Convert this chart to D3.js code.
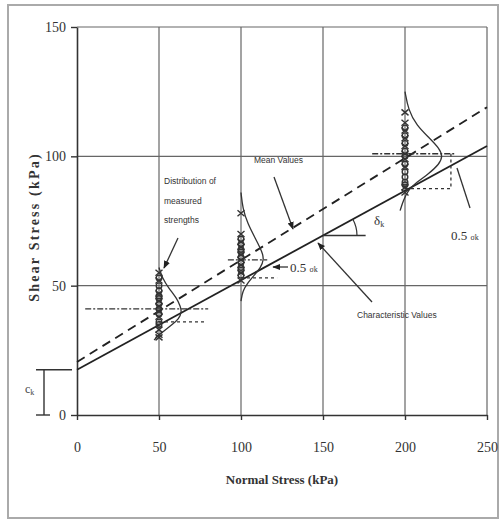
<!DOCTYPE html>
<html><head><meta charset="utf-8">
<script src="https://cdn.jsdelivr.net/npm/d3@7"></script>
<style>html,body{margin:0;padding:0;background:#fff;}svg{display:block;}</style>
</head><body>
<script>
// ---- data ----
const xTicks = [0, 50, 100, 150, 200, 250];
const yTicks = [0, 50, 100, 150];
const meanLine = [[0, 20.5], [250, 119]];
const charLine = [[0, 17.5], [250, 104]];
const groupX = [50, 100, 200];
const crosses50 = [55, 52, 47, 44, 42, 40, 38, 33, 31, 30];
const circles50 = [53, 50, 48, 46, 45, 43, 41, 39, 36, 35];
const crosses100 = [78, 70, 67, 65, 62, 60, 58, 55, 52];
const circles100 = [68, 66, 64, 63, 61, 59, 57, 56, 54];
const crosses200 = [117, 113, 110, 107, 104, 101, 99, 96, 88, 86];
const circles200 = [111, 108, 105, 102, 100, 97, 94, 92, 90, 89];
// distribution curves: [normal stress, shear stress]
const curve50 = [[50,57],[52,53],[56,49],[61,45],[63,42],[64,40],[62,37],[58,35],[54,33],[50,31],[47,29]];
const curve100 = [[100,86],[101,80],[104,74],[109,68],[113,63],[114,60],[112,57],[108,54],[104,51],[101,48],[100,44]];
const curve200 = [[200,125],[202,118],[207,112],[215,107],[221,103],[223,100],[221,97],[214,93],[207,90],[202,87],[199,83],[197,79]];
const meanMarks = [[[5, 41], [80, 41]], [[92, 60], [116, 60]], [[180, 101], [230, 101]]];
const charMarks = [[[50, 36], [78, 36]], [[100, 53], [122, 53]], [[200, 87.5], [228, 87.5], [228, 101]]];

const W = 502, H = 525;
const svg = d3.select("body").append("svg").attr("width", W).attr("height", H);
const x = d3.scaleLinear().domain([0, 250]).range([77, 487]);
const y = d3.scaleLinear().domain([0, 150]).range([415, 27]);

svg.append("defs").append("marker").attr("id", "ah").attr("viewBox", "0 0 10 10")
  .attr("refX", 9).attr("refY", 5).attr("markerWidth", 6).attr("markerHeight", 6).attr("orient", "auto")
  .append("path").attr("d", "M0,1L10,5L0,9z").attr("fill", "#222");

// frame
svg.append("rect").attr("x", 8).attr("y", 5).attr("width", 490).attr("height", 513)
  .attr("fill", "none").attr("stroke", "#aaa").attr("stroke-width", 2);

// grid
const grid = svg.append("g").attr("stroke", "#666").attr("stroke-width", 1.2);
xTicks.filter(d => d > 0).forEach(d => grid.append("line").attr("x1", x(d)).attr("x2", x(d)).attr("y1", y(0)).attr("y2", y(150)));
yTicks.filter(d => d > 0).forEach(d => grid.append("line").attr("x1", x(0)).attr("x2", x(250)).attr("y1", y(d)).attr("y2", y(d)));

// axes
const ax = svg.append("g").attr("transform", `translate(0,${y(0)})`)
  .call(d3.axisBottom(x).tickValues(xTicks).tickSize(5).tickPadding(22).tickSizeOuter(0));
const ay = svg.append("g").attr("transform", `translate(${x(0)},0)`)
  .call(d3.axisLeft(y).tickValues(yTicks).tickSize(6).tickPadding(5).tickSizeOuter(0));
[ax, ay].forEach(a => {
  a.select(".domain").attr("stroke", "#333").attr("stroke-width", 1.6);
  a.selectAll(".tick line").attr("stroke", "#333").attr("stroke-width", 1.4);
  a.selectAll("text").attr("font-family", "Liberation Serif, serif").attr("font-size", 14).attr("fill", "#333");
});

// titles
svg.append("text").attr("x", 282).attr("y", 484).attr("text-anchor", "middle")
  .attr("font-family", "Liberation Serif, serif").attr("font-weight", "bold").attr("font-size", 13).attr("fill", "#333")
  .text("Normal Stress (kPa)");
svg.append("text").attr("transform", "translate(39,227) rotate(-90)").attr("text-anchor", "middle")
  .attr("font-family", "Liberation Serif, serif").attr("font-weight", "bold").attr("font-size", 14)
  .attr("letter-spacing", 2.2).attr("fill", "#333")
  .text("Shear Stress (kPa)");

const line = d3.line().x(d => x(d[0])).y(d => y(d[1]));
// main lines
svg.append("path").attr("d", line(meanLine)).attr("fill", "none").attr("stroke", "#222").attr("stroke-width", 1.8).attr("stroke-dasharray", "9,6");
svg.append("path").attr("d", line(charLine)).attr("fill", "none").attr("stroke", "#222").attr("stroke-width", 1.8);

// mean / characteristic marks
meanMarks.forEach(m => svg.append("path").attr("d", line(m)).attr("fill", "none").attr("stroke", "#333").attr("stroke-width", 1.3).attr("stroke-dasharray", "6,2,2,2"));
charMarks.forEach(m => svg.append("path").attr("d", line(m)).attr("fill", "none").attr("stroke", "#333").attr("stroke-width", 1.3).attr("stroke-dasharray", "3,3"));

// distribution curves
const curve = d3.line().x(d => x(d[0])).y(d => y(d[1])).curve(d3.curveBasis);
[curve50, curve100, curve200].forEach(c => svg.append("path").attr("d", curve(c)).attr("fill", "none").attr("stroke", "#333").attr("stroke-width", 1.3));

// markers
const groups = [[crosses50, circles50], [crosses100, circles100], [crosses200, circles200]];
groups.forEach((g, i) => {
  const gx = x(groupX[i]);
  g[0].forEach(v => svg.append("path").attr("d", `M${gx - 3.5},${y(v) - 3}L${gx + 3.5},${y(v) + 3}M${gx - 3.5},${y(v) + 3}L${gx + 3.5},${y(v) - 3}`)
    .attr("stroke", "#333").attr("stroke-width", 1.4));
  g[1].forEach(v => svg.append("circle").attr("cx", gx).attr("cy", y(v)).attr("r", 2.8)
    .attr("fill", "none").attr("stroke", "#333").attr("stroke-width", 1.4));
});

// c_k bracket
const br = svg.append("g").attr("stroke", "#333").attr("stroke-width", 1.4);
br.append("line").attr("x1", 36).attr("x2", x(0) - 5).attr("y1", y(17.5)).attr("y2", y(17.5));
br.append("line").attr("x1", 36).attr("x2", 50).attr("y1", y(0)).attr("y2", y(0));
br.append("line").attr("x1", 44).attr("x2", 44).attr("y1", y(17.5)).attr("y2", y(0));
const ck = svg.append("text").attr("x", 25).attr("y", 393)
  .attr("font-family", "Liberation Serif, serif").attr("font-size", 12).attr("fill", "#444");
ck.append("tspan").text("c");
ck.append("tspan").attr("font-size", 8).attr("dy", 2).text("k");

// annotations
const ann = (t, xx, yy, size) => svg.append("text").attr("x", xx).attr("y", yy)
  .attr("font-family", "Liberation Sans, sans-serif").attr("font-size", size || 8.5).attr("fill", "#333").text(t);
ann("Distribution of", 164, 184);
ann("measured", 164, 204);
ann("strengths", 164, 223);
ann("Mean Values", 254, 163);
ann("Characteristic Values", 357, 318);
const arrow = (x1, y1, x2, y2, head) => svg.append("line").attr("x1", x1).attr("y1", y1).attr("x2", x2).attr("y2", y2)
  .attr("stroke", "#333").attr("stroke-width", 1.3).attr("marker-end", head ? "url(#ah)" : null);
arrow(178, 238, 164, 268, true);
arrow(274, 177, 293, 229, true);
arrow(372, 302, 318, 243, true);
arrow(288, 267, 273, 267, true);
arrow(470, 208, 457, 168, false);

// 0.5 sigma labels
const sig = (xx, yy) => {
  const t = svg.append("text").attr("x", xx).attr("y", yy).attr("font-family", "Liberation Serif, serif").attr("font-size", 13).attr("fill", "#333");
  t.append("tspan").text("0.5 ");
  t.append("tspan").attr("font-size", 8).text("\u03c3k");
};
sig(290, 272);
sig(451, 240);

// delta_k angle
const ay0 = y(69.4);
svg.append("line").attr("x1", x(150)).attr("x2", x(176)).attr("y1", ay0).attr("y2", ay0).attr("stroke", "#333").attr("stroke-width", 1.3);
const ang = Math.atan((y(charLine[0][1]) - y(charLine[1][1])) / (x(250) - x(0)));
const r = 34, cx0 = x(150), ex = cx0 + r * Math.cos(ang), ey = ay0 - r * Math.sin(ang);
svg.append("path").attr("d", `M${cx0 + r},${ay0}A${r},${r} 0 0 0 ${ex},${ey}`).attr("fill", "none").attr("stroke", "#333").attr("stroke-width", 1.2);
const dt = svg.append("text").attr("x", 374).attr("y", 225).attr("font-family", "Liberation Serif, serif").attr("font-size", 13).attr("fill", "#333");
dt.append("tspan").text("\u03b4");
dt.append("tspan").attr("font-size", 8).attr("dy", 2).text("k");
</script>
</body></html>
